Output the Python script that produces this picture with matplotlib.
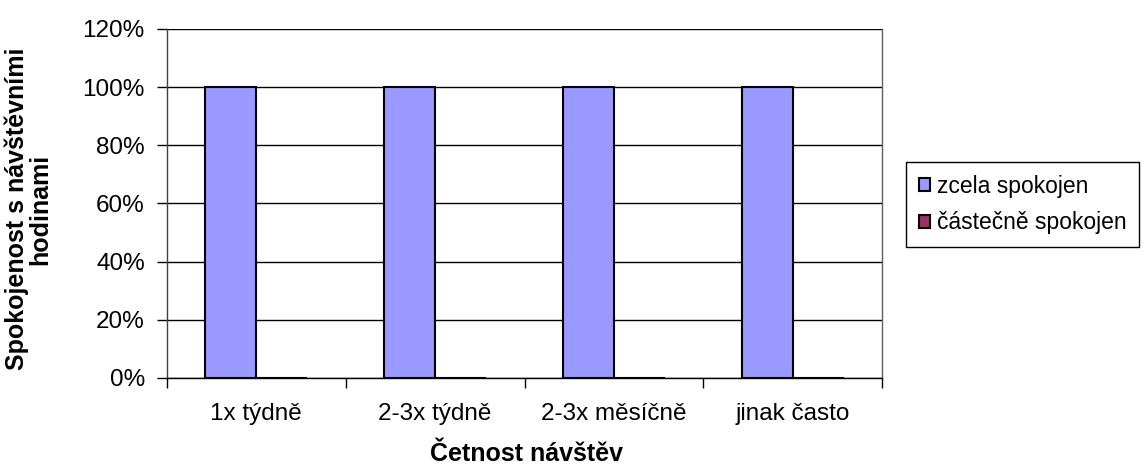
import matplotlib
matplotlib.use("Agg")
import matplotlib.pyplot as plt
import numpy as np
from matplotlib.ticker import FuncFormatter, FixedLocator

plt.rcParams['font.family'] = ['Liberation Sans', 'DejaVu Sans']

categories = ["1x týdně", "2-3x týdně", "2-3x měsíčně", "jinak často"]
series_names = ["zcela spokojen", "částečně spokojen"]
zcela = [1.0, 1.0, 1.0, 1.0]
castecne = [0.0, 0.0, 0.0, 0.0]
colors = ["#9999FF", "#993366"]

W, H = 1147, 467
TICK_FS = 17.5
TITLE_FS = 18
LEG_FS = 16.5
fig = plt.figure(figsize=(W / 100, H / 100), dpi=100)
left, right, top, bottom = 167, 882, 29, 378
ax = fig.add_axes([left / W, 1 - bottom / H, (right - left) / W, (bottom - top) / H])

x = np.arange(len(categories))
gap = 1.5
bw = 1.0 / (2 + gap)
for i, (vals, name) in enumerate(zip([zcela, castecne], series_names)):
    offs = (i - 0.5) * bw
    ax.bar(x + offs, vals, width=bw, color=colors[i], edgecolor="black",
           linewidth=1.5, label=name, zorder=3)

ax.set_xlim(-0.5, len(categories) - 0.5)
ax.set_ylim(0, 1.2)
ax.set_yticks(np.arange(0, 1.21, 0.2))
ax.yaxis.set_major_formatter(FuncFormatter(lambda v, p: f"{v*100:.0f}%"))
ax.yaxis.grid(True, color="black", linewidth=1.0, zorder=0)
ax.set_axisbelow(True)

ax.set_xticks(x)
ax.set_xticklabels(categories)
ax.xaxis.set_minor_locator(FixedLocator(np.arange(-0.5, len(categories), 1.0)))
ax.tick_params(axis="x", which="major", length=0, pad=18, labelsize=TICK_FS)
ax.tick_params(axis="x", which="minor", length=7, width=1, direction="out")
ax.tick_params(axis="y", length=7, width=1, direction="out", pad=9, labelsize=TICK_FS)

for s in ax.spines.values():
    s.set_color("black")
    s.set_linewidth(1.0)
ax.spines["left"].set_color("#404040")
ax.spines["right"].set_color("#606060")
ax.spines["top"].set_visible(False)

# axis titles placed in figure pixels
fig.text(527 / W, 1 - 454 / H, "Četnost návštěv", fontsize=TITLE_FS, fontweight="bold",
         ha="center", va="center")
fig.text(28 / W, 1 - 209 / H, "Spokojenost s návštěvními\nhodinami", fontsize=TITLE_FS,
         fontweight="bold", rotation=90, ha="center", va="center",
         multialignment="center", linespacing=0.95)

leg = fig.legend(loc="upper left", bbox_to_anchor=(906 / W, 1 - 162 / H),
                 borderaxespad=0, fancybox=False, edgecolor="black",
                 framealpha=1, fontsize=LEG_FS, handlelength=0.5, handleheight=0.5,
                 handletextpad=0.3, labelspacing=0.6, borderpad=0.55)
leg.get_frame().set_linewidth(1.0)

fig.savefig("out.png", dpi=100)
